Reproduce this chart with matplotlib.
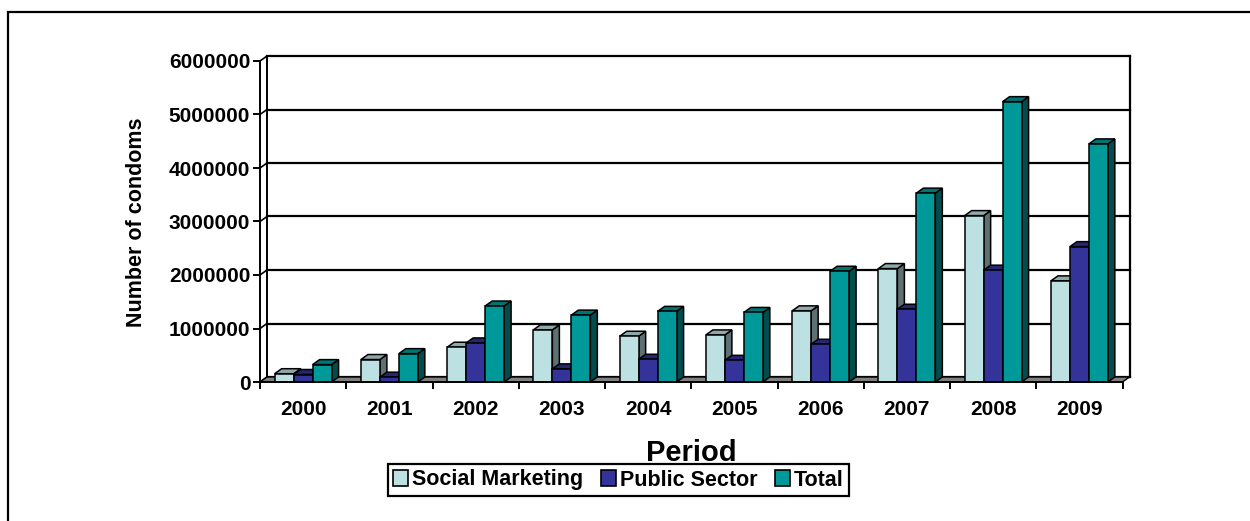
"""
Condom distribution by year - 3D-style clustered columns
"""

import matplotlib.pyplot as plt
from matplotlib.patches import Polygon, Patch, Rectangle
import numpy as np

plt.rcParams["font.family"] = ["Liberation Sans", "DejaVu Sans"]
plt.rcParams["font.weight"] = "bold"

years = ["2000", "2001", "2002", "2003", "2004", "2005", "2006", "2007", "2008", "2009"]
social_marketing = [155000, 420000, 650000, 975000, 855000, 880000, 1330000, 2120000, 3110000, 1890000]
public_sector = [140000, 90000, 730000, 245000, 425000, 405000, 705000, 1360000, 2090000, 2530000]
total = [325000, 530000, 1420000, 1250000, 1320000, 1300000, 2070000, 3530000, 5240000, 4450000]

series_names = ["Social Marketing", "Public Sector", "Total"]
series_values = [social_marketing, public_sector, total]
y_ticks = [0, 1000000, 2000000, 3000000, 4000000, 5000000, 6000000]

# front, top, side colours for each series
face_colors = ["#BDE0E3", "#333399", "#009999"]
top_colors = ["#8FA9AB", "#262673", "#007373"]
side_colors = ["#5E7072", "#1A1A4D", "#004D4D"]

W, H = 1250, 521
fig = plt.figure(figsize=(W / 100, H / 100), dpi=100)

# front plane of the plot in pixels
left_px, right_px, top_px, bottom_px = 260, 1122.5, 61, 382
ax = fig.add_axes([left_px / W, 1 - bottom_px / H,
                   (right_px - left_px) / W, (bottom_px - top_px) / H])
ax.set_facecolor("none")
ax.set_xlim(0, len(years))
ax.set_ylim(0, y_ticks[-1])

# depth offset (pixels -> data units)
dx = 7 * len(years) / (right_px - left_px)
dy = 5 * y_ticks[-1] / (bottom_px - top_px)

n = len(years)
ymax = y_ticks[-1]

# back wall gridlines, side wall
for v in y_ticks:
    ax.plot([dx, n + dx], [v + dy, v + dy], color="black", lw=1.6, clip_on=False, zorder=1)
    ax.plot([0, dx], [v, v + dy], color="black", lw=1.2, clip_on=False, zorder=1)
ax.plot([dx, dx], [dy, ymax + dy], color="black", lw=1.4, clip_on=False, zorder=1)
ax.plot([n + dx, n + dx], [dy, ymax + dy], color="black", lw=1.6, clip_on=False, zorder=1)

# floor
floor = Polygon([(0, 0), (n, 0), (n + dx, dy), (dx, dy)], closed=True,
                facecolor="#808080", edgecolor="black", lw=1.0, clip_on=False, zorder=2)
ax.add_patch(floor)

bar_w = 0.22
x = np.arange(n) + 0.5
z = 3
for i in range(n):
    for k, vals in enumerate(series_values):
        xc = x[i] + (k - 1) * bar_w
        h = vals[i]
        x0, x1 = xc - bar_w / 2, xc + bar_w / 2
        side = Polygon([(x1, 0), (x1 + dx, dy), (x1 + dx, h + dy), (x1, h)], closed=True,
                       facecolor=side_colors[k], edgecolor="black", lw=1.1, zorder=z)
        top = Polygon([(x0, h), (x1, h), (x1 + dx, h + dy), (x0 + dx, h + dy)], closed=True,
                      facecolor=top_colors[k], edgecolor="black", lw=1.1, zorder=z)
        ax.add_patch(side)
        ax.add_patch(top)
        ax.bar(xc, h, width=bar_w, color=face_colors[k], edgecolor="black",
               linewidth=1.1, zorder=z + 0.5)
        z += 1

# axes styling
for s in ["top", "right"]:
    ax.spines[s].set_visible(False)
ax.spines["left"].set_linewidth(1.4)
ax.spines["bottom"].set_linewidth(1.4)
ax.spines["left"].set_zorder(100)
ax.spines["bottom"].set_zorder(100)

ax.set_yticks(y_ticks)
ax.set_yticklabels([str(v) for v in y_ticks])
ax.tick_params(axis="y", direction="out", length=5, width=1.4, pad=2, labelsize=15)

ax.set_xticks(x)
ax.set_xticklabels(years)
ax.set_xticks(np.arange(n + 1), minor=True)
ax.tick_params(axis="x", which="major", length=0, pad=13, labelsize=15)
ax.tick_params(axis="x", which="minor", direction="out", length=5, width=1.4)

fig.text(137 / W, 1 - 222 / H, "Number of condoms", rotation=90, ha="center", va="center",
         fontsize=15.5, fontweight="bold")
fig.text(691 / W, 1 - 453 / H, "Period", ha="center", va="center", fontsize=21,
         fontweight="bold", zorder=10)

handles = [Patch(facecolor=c, edgecolor="black", linewidth=1.2) for c in face_colors]
leg = fig.legend(handles, series_names, loc="center", bbox_to_anchor=(618.5 / W, 1 - 480 / H),
                 ncol=3, frameon=True, fancybox=False, edgecolor="black", framealpha=1,
                 prop={"size": 15.5, "weight": "bold"}, handlelength=0.7, handleheight=0.7,
                 handletextpad=0.2, columnspacing=0.8, borderpad=0.25, borderaxespad=0)
leg.get_frame().set_linewidth(1.6)

# outer chart frame (only left and top visible)
fig.patches.append(Rectangle((8 / W, -0.1), 1.2, (H - 12) / H + 0.1, transform=fig.transFigure,
                             fill=False, edgecolor="black", lw=1.6))

fig.savefig("out.png", dpi=100)
